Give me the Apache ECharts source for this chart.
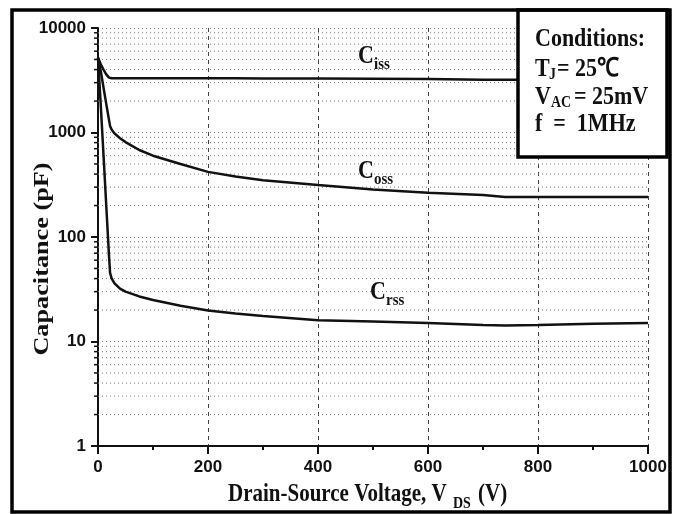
<!DOCTYPE html>
<html>
<head>
<meta charset="utf-8">
<script src="https://cdn.jsdelivr.net/npm/echarts@6/dist/echarts.min.js"></script>
<style>
html, body { margin: 0; background: #fff; }
#chart_box { width: 680px; height: 514px; }
</style>
</head>
<body>
<div id="chart_box"></div>
<script>
// drain-source voltage (V)
const vds  = [0, 5, 10, 15, 20, 22, 25, 30, 40, 50, 75, 100, 150, 200, 250, 300, 400, 500, 600, 700, 740, 800, 900, 1000];
// capacitances (pF)
const ciss = [5200, 4500, 4000, 3600, 3350, 3300, 3300, 3300, 3300, 3300, 3300, 3300, 3300, 3300, 3300, 3290, 3280, 3270, 3250, 3200, 3200, 3200, 3200, 3200];
const coss = [5200, 3880, 2700, 1880, 1320, 1150, 1060, 980, 880, 810, 680, 600, 500, 420, 380, 350, 315, 285, 265, 252, 242, 242, 242, 242];
const crss = [5200, 1830, 610, 200, 66, 45, 40, 36, 32, 30, 27, 25, 22, 19.8, 18.5, 17.5, 16, 15.5, 15, 14.4, 14.2, 14.4, 14.8, 15];
const xTicks = [0, 200, 400, 600, 800, 1000];
const yTicks = [1, 10, 100, 1000, 10000];

const serif = '"Liberation Serif", "Times New Roman", serif';
const sans = '"Liberation Sans", Arial, sans-serif';

// minor log gridlines 2..9 of each decade
const minorVals = [];
for (let d = 1; d < 10000; d *= 10) {
  for (let k = 2; k <= 9; k++) minorVals.push(k * d);
}

const pairs = arr => vds.map((v, i) => [v, arr[i]]);

function txt(x, y, text, size, opts) {
  return Object.assign({
    type: 'text', x: x, y: y, z: 100, scaleY: 1.18,
    style: {
      text: text, fontSize: size, fontWeight: 'bold', fontFamily: serif,
      fill: '#111', align: 'left', verticalAlign: 'middle'
    }
  }, opts || {});
}

const myChart = echarts.init(document.getElementById('chart_box'));

const option = {
  animation: false,
  backgroundColor: '#fff',
  grid: { left: 98, right: 32, top: 28, bottom: 68 },
  xAxis: {
    type: 'value',
    min: 0, max: 1000, interval: 200,
    axisLine: { show: true, lineStyle: { color: '#111', width: 2 } },
    axisTick: { show: true, length: 8, lineStyle: { color: '#111', width: 2 } },
    minorTick: { show: true, splitNumber: 2, length: 4, lineStyle: { color: '#111', width: 2 } },
    axisLabel: {
      margin: 13, color: '#111', fontSize: 17, fontWeight: 'bold', fontFamily: sans,
      formatter: v => xTicks.indexOf(v) >= 0 ? String(v) : ''
    },
    splitLine: { show: true, lineStyle: { color: '#444', width: 1, type: [4, 4] } }
  },
  yAxis: {
    type: 'log', logBase: 10,
    min: 1, max: 10000,
    axisLine: { show: true, lineStyle: { color: '#111', width: 2 } },
    axisTick: { show: true, length: 7, lineStyle: { color: '#111', width: 2 } },
    axisLabel: {
      margin: 12, color: '#111', fontSize: 17, fontWeight: 'bold', fontFamily: sans,
      formatter: v => yTicks.indexOf(Math.round(v)) >= 0 ? String(Math.round(v)) : ''
    },
    splitLine: { show: true, lineStyle: { color: '#777', width: 1, type: [1, 3] } }
  },
  series: [
    {
      type: 'custom',
      silent: true,
      clip: false,
      z: 1,
      data: minorVals.map(v => [0, v]),
      encode: { x: 0, y: 1 },
      renderItem: function (params, api) {
        const v = api.value(1);
        const p0 = api.coord([0, v]);
        const p1 = api.coord([1000, v]);
        return {
          type: 'group',
          children: [
            { type: 'line', shape: { x1: p0[0], y1: p0[1], x2: p1[0], y2: p1[1] },
              style: { stroke: '#777', lineWidth: 1, lineDash: [1, 3] } },
            { type: 'line', shape: { x1: p0[0] - 4, y1: p0[1], x2: p0[0], y2: p0[1] },
              style: { stroke: '#111', lineWidth: 1.5 } }
          ]
        };
      }
    },
    { name: 'Ciss', type: 'line', data: pairs(ciss), showSymbol: false, z: 5,
      lineStyle: { color: '#111', width: 2.5 } },
    { name: 'Coss', type: 'line', data: pairs(coss), showSymbol: false, z: 5,
      lineStyle: { color: '#111', width: 2.5 } },
    { name: 'Crss', type: 'line', data: pairs(crss), showSymbol: false, z: 5,
      lineStyle: { color: '#111', width: 2.5 } }
  ],
  graphic: [
    // outer frame
    { type: 'rect', z: 100, shape: { x: 12, y: 10, width: 658, height: 502 },
      style: { fill: 'none', stroke: '#000', lineWidth: 3.5 } },
    // conditions box
    { type: 'rect', z: 99, shape: { x: 518, y: 10, width: 149, height: 147 },
      style: { fill: '#fff', stroke: '#000', lineWidth: 3.5 } },
    txt(535, 39, 'Conditions:', 22),
    txt(535, 69, 'T', 22),
    txt(549, 75, 'J', 14),
    txt(557, 69, '= 25\u2103', 22),
    txt(535, 97, 'V', 22),
    txt(551, 103, 'AC', 14),
    txt(574, 97, '= 25mV', 22),
    txt(535, 124, 'f  =  1MHz', 22),
    // curve labels
    txt(358, 56, 'C', 22),
    txt(374, 64, 'iss', 15),
    txt(358, 171, 'C', 22),
    txt(374, 179, 'oss', 15),
    txt(370, 292, 'C', 22),
    txt(386, 300, 'rss', 15),
    // axis names
    txt(228, 495, 'Drain-Source Voltage, V', 21),
    txt(453, 504, 'DS', 14),
    txt(478, 495, '(V)', 21),
    txt(43, 259, 'Capacitance (pF)', 21, {
      rotation: Math.PI / 2, scaleY: 1, scaleX: 1.25,
      style: { text: 'Capacitance (pF)', fontSize: 21, fontWeight: 'bold', fontFamily: serif,
        fill: '#111', align: 'center', verticalAlign: 'middle' }
    })
  ]
};

myChart.setOption(option);
</script>
</body>
</html>
